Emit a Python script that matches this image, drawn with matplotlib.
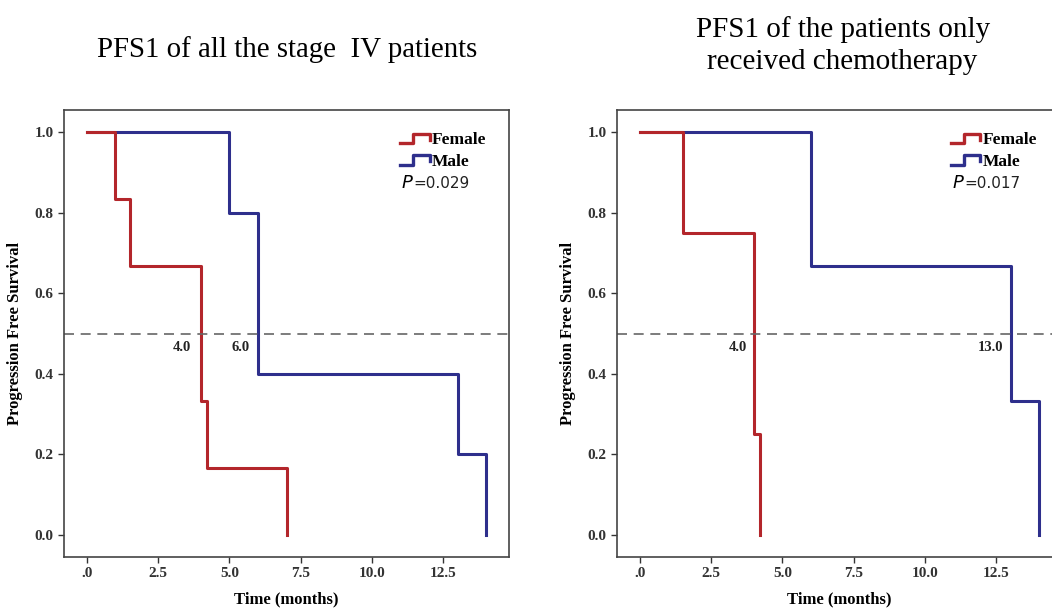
import matplotlib.pyplot as plt
from matplotlib.lines import Line2D
from matplotlib.legend_handler import HandlerBase

# PFS1, all stage IV patients
all_f_times = [0, 1.0, 1.5, 4.0, 4.2, 7.0]
all_f_surv = [1.0, 0.833, 0.667, 0.333, 0.167, 0.0]
all_m_times = [0, 5.0, 6.0, 13.0, 14.0]
all_m_surv = [1.0, 0.8, 0.4, 0.2, 0.0]
all_medians = [4.0, 6.0]
all_median_pos = [3.33, 5.4]
all_p = "0.029"

# PFS1, chemotherapy only
chemo_f_times = [0, 1.5, 4.0, 4.2]
chemo_f_surv = [1.0, 0.75, 0.25, 0.0]
chemo_m_times = [0, 6.0, 13.0, 14.0]
chemo_m_surv = [1.0, 0.667, 0.333, 0.0]
chemo_medians = [4.0, 13.0]
chemo_median_pos = [3.45, 12.3]
chemo_p = "0.017"

x_ticks = [0, 2.5, 5.0, 7.5, 10.0, 12.5]
x_labels = [".0", "2.5", "5.0", "7.5", "10.0", "12.5"]
y_ticks = [0.0, 0.2, 0.4, 0.6, 0.8, 1.0]
y_labels = ["0.0", "0.2", "0.4", "0.6", "0.8", "1.0"]

RED = "#b3262b"
BLUE = "#2e2f8c"
SERIF = "Liberation Serif"


class StepHandler(HandlerBase):
    # little step-shaped legend key, like SPSS draws
    def create_artists(self, legend, orig, xd, yd, width, height, fontsize, trans):
        x0, y0 = -xd, -yd
        lo = y0 + height * 0.1
        hi = y0 + height * 0.9
        xs = [x0, x0 + width * 0.45, x0 + width * 0.45, x0 + width, x0 + width]
        ys = [lo, lo, hi, hi, lo + height * 0.3]
        ln = Line2D(xs, ys, color=orig.get_color(), lw=2.4, transform=trans)
        return [ln]


def km_panel(ax, f_t, f_s, m_t, m_s, medians, med_pos, pval, leg_x):
    # extend the last step to zero as a vertical drop
    ax.step(m_t + [m_t[-1]], m_s + [m_s[-1]], where="post", color=BLUE, lw=2.2)
    ax.step(f_t + [f_t[-1]], f_s + [f_s[-1]], where="post", color=RED, lw=2.2)
    ax.axhline(0.5, color="#666666", lw=1.2, ls=(0, (6, 4)))
    for m, xp in zip(medians, med_pos):
        ax.text(xp, 0.465, f"{m:.1f}", fontsize=10.5, fontweight="bold",
                family=SERIF, ha="center", va="center", color="#222222")

    ax.set_xlim(-0.8, 14.8)
    ax.set_ylim(-0.055, 1.055)
    ax.set_xticks(x_ticks)
    ax.set_xticklabels(x_labels)
    ax.set_yticks(y_ticks)
    ax.set_yticklabels(y_labels)
    for lab in ax.get_xticklabels() + ax.get_yticklabels():
        lab.set_fontfamily(SERIF)
        lab.set_fontweight("bold")
        lab.set_fontsize(11)
    ax.tick_params(direction="out", length=4, width=1, colors="#333333")
    for sp in ax.spines.values():
        sp.set_color("#444444")
        sp.set_linewidth(1.2)
    ax.set_xlabel("Time (months)", family=SERIF, fontweight="bold", fontsize=12, labelpad=8)
    ax.set_ylabel("Progression Free Survival", family=SERIF, fontweight="bold", fontsize=12, labelpad=8)

    handles = [Line2D([], [], color=RED), Line2D([], [], color=BLUE)]
    ax.legend(handles, ["Female", "Male"], loc="upper left", bbox_to_anchor=(leg_x, 0.985),
              frameon=False, handlelength=1.7, handletextpad=0.15, labelspacing=0.3,
              prop={"family": SERIF, "weight": "bold", "size": 12.5},
              handler_map={Line2D: StepHandler()})
    ax.text(leg_x + 0.037, 0.835, "$\\it{P}$", transform=ax.transAxes, fontsize=13,
            family=SERIF, va="center", ha="left")
    ax.text(leg_x + 0.065, 0.835, "=" + pval, transform=ax.transAxes, fontsize=11,
            family="DejaVu Sans", va="center", ha="left", color="#222222")


fig = plt.figure(figsize=(10.52, 6.12), dpi=100)
ax1 = fig.add_axes([64 / 1052, 55 / 612, 445 / 1052, 447 / 612])
ax2 = fig.add_axes([617 / 1052, 55 / 612, 445 / 1052, 447 / 612])

km_panel(ax1, all_f_times, all_f_surv, all_m_times, all_m_surv,
         all_medians, all_median_pos, all_p, 0.72)
km_panel(ax2, chemo_f_times, chemo_f_surv, chemo_m_times, chemo_m_surv,
         chemo_medians, chemo_median_pos, chemo_p, 0.715)

fig.text(0.273, 1 - 50 / 612, "PFS1 of all the stage  IV patients", family=SERIF,
         fontsize=20.8, ha="center", va="center")
fig.text(0.801, 1 - 30 / 612, "PFS1 of the patients only", family=SERIF,
         fontsize=21, ha="center", va="center")
fig.text(0.801, 1 - 62 / 612, "received chemotherapy", family=SERIF,
         fontsize=21, ha="center", va="center")

fig.savefig("out.png", dpi=100)
